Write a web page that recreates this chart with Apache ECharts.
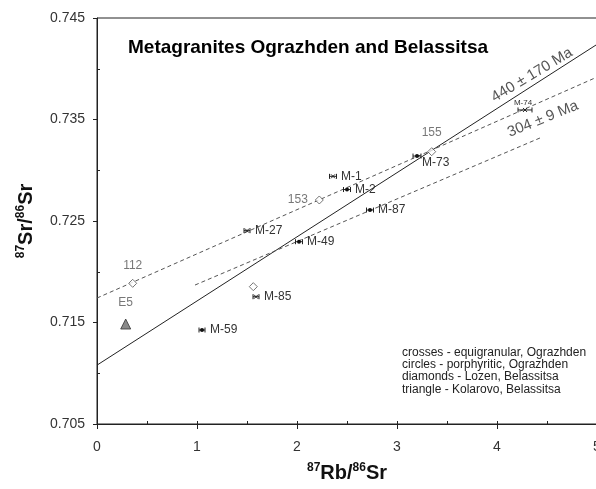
<!DOCTYPE html>
<html><head><meta charset="utf-8">
<script src="https://cdn.jsdelivr.net/npm/echarts@6/dist/echarts.min.js"></script>
<style>html,body{margin:0;padding:0;background:#fff}#c{width:596px;height:489px}</style>
</head><body><div id="c"></div>
<script>
// ---- data ----
const sampleNames   = ['M-1','M-2','M-27','M-49','M-87','M-85','M-59','M-73','M-74'];
const sampleRbSr    = [2.36, 2.50, 1.50, 2.02, 2.73, 1.59, 1.05, 3.20, 4.28];
const sampleSrSr    = [0.7294, 0.7281, 0.72405, 0.72296, 0.72608, 0.71754, 0.71426, 0.7314, 0.73594];
const sampleRbErr   = [0.035, 0.035, 0.03, 0.035, 0.035, 0.03, 0.03, 0.04, 0.07];
const sampleTexture = ['cross','circle','cross','circle','circle','cross','circle','circle','cross'];

const lozenNames = ['112','153','155',''];
const lozenRbSr  = [0.357, 2.223, 3.347, 1.563];
const lozenSrSr  = [0.71886, 0.72707, 0.73183, 0.71853];

const kolarovoNames = ['E5'];
const kolarovoRbSr  = [0.287];
const kolarovoSrSr  = [0.71485];

const isochron440X = [0, 5];
const isochron440Y = [0.7108, 0.7424];
const upperDashX   = [0, 5];
const upperDashY   = [0.71741, 0.73918];
const isochron304X = [0.98, 4.43];
const isochron304Y = [0.71869, 0.73318];

const xTicks = [0, 1, 2, 3, 4, 5];
const xMinorTicks = [0.5, 1.5, 2.5, 3.5, 4.5];
const yTicks = [0.705, 0.715, 0.725, 0.735, 0.745];
const yMinorTicks = [0.71, 0.72, 0.73, 0.74];

const titleText = 'Metagranites Ograzhden and Belassitsa';
const age440Text = '440 ± 170 Ma';
const age304Text = '304 ± 9 Ma';
const noteLines = ['crosses - equigranular, Ograzhden','circles - porphyritic, Ograzhden','diamonds - Lozen, Belassitsa','triangle - Kolarovo, Belassitsa'];

// ---- chart ----
const FF = '"Liberation Sans", Arial, sans-serif';
const chart = echarts.init(document.getElementById('c'), null, {renderer: 'canvas'});

const zip = (xs, ys) => xs.map((x, i) => [x, ys[i]]);
const labelPlace = {
  'M-73': {dx: 5, dy: 7, align: 'left', size: 12},
  'M-74': {dx: -2, dy: -7, align: 'center', size: 8}
};

const nameRich = {
  b: {fontSize: 20, fontWeight: 'bold', fontFamily: FF, color: '#111'},
  s: {fontSize: 12, fontWeight: 'bold', fontFamily: FF, color: '#111', verticalAlign: 'top', padding: [0, 0, 10, 0]}
};

const lozenPlace = {'112': {position: 'top', distance: 7}, '153': {position: 'left', distance: 7}, '155': {position: 'top', distance: 8}};

chart.setOption({
  animation: false,
  backgroundColor: '#fff',
  grid: {left: 97, top: 18, width: 500, height: 406, show: true, borderColor: '#222', borderWidth: 1,
         backgroundColor: 'transparent', containLabel: false, outerBoundsMode: 'none'},
  xAxis: [
    {type: 'value', min: 0, max: 5, position: 'bottom',
     axisLine: {show: true, onZero: false, lineStyle: {color: '#222', width: 1}},
     axisTick: {show: true, inside: false, length: 5, customValues: xTicks, lineStyle: {color: '#222'}},
     axisLabel: {customValues: xTicks, margin: 16, fontSize: 14, color: '#333', fontFamily: FF},
     splitLine: {show: false},
     name: '{s|87}{b|Rb/}{s|86}{b|Sr}', nameLocation: 'middle', nameGap: 38,
     nameTextStyle: {rich: nameRich}},
    {type: 'value', min: 0, max: 5, position: 'bottom',
     axisLine: {show: false, onZero: false},
     axisTick: {show: true, inside: true, length: 3, customValues: xTicks.concat(xMinorTicks), lineStyle: {color: '#222'}},
     axisLabel: {show: false}, splitLine: {show: false}}
  ],
  yAxis: [
    {type: 'value', min: 0.705, max: 0.745, position: 'left',
     axisLine: {show: true, onZero: false, lineStyle: {color: '#222', width: 1}},
     axisTick: {show: true, inside: false, length: 4, customValues: yTicks, lineStyle: {color: '#222'}},
     axisLabel: {customValues: yTicks, margin: 12, fontSize: 14, color: '#333', fontFamily: FF,
                 formatter: v => v.toFixed(3)},
     splitLine: {show: false},
     name: '{s|87}{b|Sr/}{s|86}{b|Sr}', nameLocation: 'middle', nameGap: 60,
     nameTextStyle: {rich: nameRich}},
    {type: 'value', min: 0.705, max: 0.745, position: 'left',
     axisLine: {show: false, onZero: false},
     axisTick: {show: true, inside: true, length: 3, customValues: yMinorTicks, lineStyle: {color: '#222'}},
     axisLabel: {show: false}, splitLine: {show: false}}
  ],
  graphic: [
    {type: 'text', x: 128, y: 48, style: {text: titleText, font: 'bold 19px ' + FF, fill: '#000', verticalAlign: 'middle', align: 'left'}},
    {type: 'text', x: 532, y: 75, rotation: 31 * Math.PI / 180, style: {text: age440Text, font: '15px ' + FF, fill: '#555', align: 'center', verticalAlign: 'middle'}},
    {type: 'text', x: 543, y: 119, rotation: 22 * Math.PI / 180, style: {text: age304Text, font: '15px ' + FF, fill: '#555', align: 'center', verticalAlign: 'middle'}},
    {type: 'text', x: 402, y: 346, style: {text: noteLines.join('\n'), font: '12px ' + FF, lineHeight: 12.4, fill: '#222', align: 'left', verticalAlign: 'top'}}
  ],
  series: [
    {type: 'line', data: zip(isochron440X, isochron440Y), symbol: 'none', silent: true,
     lineStyle: {color: '#222', width: 1}, z: 2},
    {type: 'line', data: zip(upperDashX, upperDashY), symbol: 'none', silent: true,
     lineStyle: {color: '#555', width: 1, type: [4, 3]}, z: 2},
    {type: 'line', data: zip(isochron304X, isochron304Y), symbol: 'none', silent: true,
     lineStyle: {color: '#555', width: 1, type: [4, 3]}, z: 2},
    {type: 'scatter', z: 4,
     data: lozenNames.map((n, i) => {
       const p = lozenPlace[n];
       return {name: n, value: [lozenRbSr[i], lozenSrSr[i]],
         label: p ? {show: true, position: p.position, distance: p.distance, formatter: n,
                     fontSize: 12, color: '#555', fontFamily: FF} : {show: false}};
     }),
     symbol: 'diamond', symbolSize: 8,
     itemStyle: {color: '#fff', borderColor: '#555', borderWidth: 1}},
    {type: 'scatter', z: 4,
     data: kolarovoNames.map((n, i) => ({name: n, value: [kolarovoRbSr[i], kolarovoSrSr[i]]})),
     symbol: 'triangle', symbolSize: 10,
     itemStyle: {color: '#6b6b6b', borderColor: '#333', borderWidth: 1},
     label: {show: true, position: 'top', distance: 10, formatter: p => p.name, fontSize: 12, color: '#555', fontFamily: FF}},
    {type: 'custom', z: 5, clip: false,
     data: sampleNames.map((n, i) => [sampleRbSr[i], sampleSrSr[i], sampleRbErr[i]]),
     renderItem: function (params, api) {
       const i = params.dataIndex;
       const x = api.value(0), y = api.value(1), e = api.value(2);
       const c = api.coord([x, y]), l = api.coord([x - e, y]), r = api.coord([x + e, y]);
       const st = {stroke: '#222', lineWidth: 1};
       const ch = [
         {type: 'line', shape: {x1: l[0], y1: c[1], x2: r[0], y2: c[1]}, style: st},
         {type: 'line', shape: {x1: l[0], y1: c[1] - 2.5, x2: l[0], y2: c[1] + 2.5}, style: st},
         {type: 'line', shape: {x1: r[0], y1: c[1] - 2.5, x2: r[0], y2: c[1] + 2.5}, style: st}
       ];
       if (sampleTexture[i] === 'circle') {
         ch.push({type: 'circle', shape: {cx: c[0], cy: c[1], r: 2}, style: {fill: '#111'}});
       } else {
         ch.push({type: 'line', shape: {x1: c[0] - 2, y1: c[1] - 2, x2: c[0] + 2, y2: c[1] + 2}, style: st});
         ch.push({type: 'line', shape: {x1: c[0] - 2, y1: c[1] + 2, x2: c[0] + 2, y2: c[1] - 2}, style: st});
       }
       const p = labelPlace[sampleNames[i]] || {dx: 8, dy: 0, align: 'left', size: 12};
       ch.push({type: 'text', x: c[0] + p.dx, y: c[1] + p.dy,
         style: {text: sampleNames[i], fill: '#333', fontSize: p.size, fontFamily: FF, align: p.align, verticalAlign: 'middle'}});
       return {type: 'group', children: ch};
     }}
  ]
});
</script></body></html>
